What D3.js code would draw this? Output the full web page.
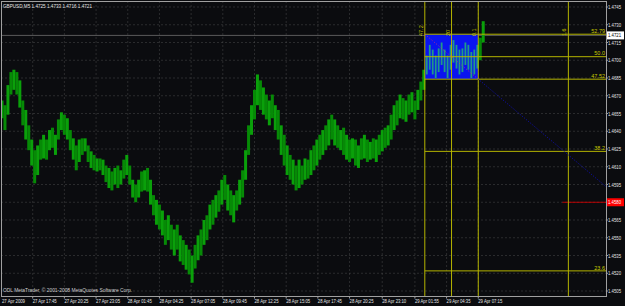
<!DOCTYPE html>
<html><head><meta charset="utf-8">
<script src="https://cdn.jsdelivr.net/npm/d3@7"></script>
<style>body{margin:0;background:#0b0c0f;} svg{display:block}</style>
</head><body><svg id="c" width="625" height="306"></svg>
<script>
// ---------- data ----------
const symbolTitle = "GBPUSD,M5  1.4725 1.4733 1.4716 1.4721";
const copyright = "ODL MetaTrader, © 2001-2008 MetaQuotes Software Corp.";
const barStepMinutes = 15; // each drawn bar groups 15 minutes of M5 data
const barHigh = [
1.4666,1.4662,1.4679,1.4690,1.4692,1.4690,1.4683,1.4666,1.4658,1.4645,
1.4633,1.4624,1.4628,1.4633,1.4637,1.4633,1.4641,1.4643,1.4637,1.4650,
1.4656,1.4654,1.4651,1.4641,1.4634,1.4628,1.4633,1.4634,1.4634,1.4628,
1.4623,1.4620,1.4617,1.4617,1.4616,1.4611,1.4609,1.4606,1.4609,1.4611,
1.4607,1.4616,1.4620,1.4611,1.4599,1.4595,1.4599,1.4606,1.4607,1.4609,
1.4599,1.4586,1.4582,1.4578,1.4573,1.4565,1.4569,1.4561,1.4557,1.4561,
1.4552,1.4548,1.4544,1.4540,1.4535,1.4544,1.4552,1.4557,1.4565,1.4569,
1.4578,1.4582,1.4586,1.4590,1.4599,1.4603,1.4595,1.4590,1.4586,1.4590,
1.4599,1.4607,1.4624,1.4645,1.4662,1.4675,1.4688,1.4683,1.4677,1.4671,
1.4666,1.4671,1.4662,1.4658,1.4645,1.4637,1.4628,1.4620,1.4616,1.4611,
1.4616,1.4611,1.4617,1.4616,1.4624,1.4628,1.4633,1.4637,1.4641,1.4645,
1.4650,1.4654,1.4650,1.4645,1.4641,1.4643,1.4637,1.4633,1.4634,1.4633,
1.4628,1.4634,1.4637,1.4633,1.4631,1.4634,1.4633,1.4637,1.4641,1.4643,
1.4645,1.4654,1.4662,1.4666,1.4671,1.4668,1.4666,1.4671,1.4673,1.4666,
1.4675,1.4682,1.4692,1.4704,1.4713,1.4709,1.4704,1.4710,1.4715,1.4709,
1.4704,1.4713,1.4717,1.4713,1.4709,1.4710,1.4715,1.4713,1.4707,1.4709,
1.4713,1.4719,1.4733];
const barLow = [
1.4651,1.4641,1.4654,1.4671,1.4675,1.4671,1.4660,1.4645,1.4633,1.4624,
1.4611,1.4596,1.4603,1.4616,1.4617,1.4616,1.4624,1.4626,1.4620,1.4633,
1.4641,1.4637,1.4633,1.4624,1.4616,1.4607,1.4614,1.4620,1.4623,1.4614,
1.4609,1.4607,1.4606,1.4607,1.4603,1.4597,1.4592,1.4590,1.4595,1.4592,
1.4595,1.4600,1.4603,1.4595,1.4584,1.4580,1.4584,1.4589,1.4590,1.4589,
1.4578,1.4569,1.4561,1.4557,1.4552,1.4544,1.4548,1.4540,1.4535,1.4540,
1.4530,1.4527,1.4523,1.4519,1.4512,1.4524,1.4531,1.4535,1.4544,1.4548,
1.4557,1.4561,1.4567,1.4572,1.4578,1.4582,1.4573,1.4569,1.4563,1.4573,
1.4578,1.4584,1.4599,1.4620,1.4637,1.4650,1.4662,1.4658,1.4654,1.4650,
1.4645,1.4651,1.4641,1.4633,1.4620,1.4611,1.4603,1.4599,1.4595,1.4590,
1.4592,1.4595,1.4599,1.4600,1.4603,1.4607,1.4611,1.4616,1.4620,1.4624,
1.4628,1.4633,1.4628,1.4626,1.4624,1.4620,1.4616,1.4614,1.4617,1.4611,
1.4609,1.4616,1.4617,1.4614,1.4616,1.4617,1.4614,1.4620,1.4623,1.4626,
1.4628,1.4633,1.4641,1.4645,1.4651,1.4650,1.4648,1.4654,1.4656,1.4650,
1.4658,1.4666,1.4675,1.4688,1.4692,1.4688,1.4685,1.4690,1.4696,1.4690,
1.4685,1.4692,1.4698,1.4693,1.4688,1.4690,1.4696,1.4692,1.4685,1.4688,
1.4693,1.4700,1.4715];
const priceTicks = [1.4745,1.4730,1.4715,1.4700,1.4685,1.4670,1.4655,1.4640,1.4625,1.4610,1.4595,1.4580,1.4565,1.4550,1.4535,1.4520,1.4505];
const timeLabels = ["27 Apr 2009","27 Apr 17:45","27 Apr 20:25","27 Apr 23:05","28 Apr 01:45","28 Apr 04:25","28 Apr 07:05","28 Apr 09:45","28 Apr 12:25","28 Apr 15:05","28 Apr 17:45","28 Apr 20:25","28 Apr 23:10","29 Apr 01:55","29 Apr 04:35","29 Apr 07:15"];
const timeLabelMinutes = [0,155,315,475,635,795,955,1115,1275,1435,1595,1755,1920,2085,2245,2405];
const bidPrice = 1.4721;
const alertPrice = 1.4580;
const alertStartMinute = 2830;
const fibLabels = ["52.79","50.0","47.52","38.2","23.6"];
const fibPrices = [1.4722,1.4703,1.4684,1.4623,1.4522];
const fibStartMinute = 2135;
const boxMinutes = [2135, 2405];
const boxPrices = [1.4722, 1.4684];
const vLineMinutes = [2135, 2270, 2405, 2860];
const vLineLabels = ["47.2","20","0.1","1.6"];

// ---------- chart ----------
const svg = d3.select("#c");
const L = 1.5, R = 606.5, T = 1.5, B = 296.5;
const x = d3.scaleLinear().domain([0, 3050]).range([2, 606]);
const y = d3.scaleLinear().domain([1.4745, 1.4505]).range([7, 291]);
const font = "Liberation Sans, Arial, sans-serif";

svg.append("rect").attr("width",625).attr("height",306).attr("fill","#0b0c0f");

const defs = svg.append("defs");
defs.append("clipPath").attr("id","plot").append("rect")
  .attr("x",L).attr("y",T).attr("width",R-L).attr("height",B-T);
defs.append("clipPath").attr("id","box").append("rect")
  .attr("x",x(boxMinutes[0])).attr("y",y(boxPrices[0]))
  .attr("width",x(boxMinutes[1])-x(boxMinutes[0])).attr("height",y(boxPrices[1])-y(boxPrices[0]));

const plot = svg.append("g").attr("clip-path","url(#plot)");

// grid
plot.selectAll("line.hg").data(priceTicks).join("line")
  .attr("x1",L).attr("x2",R).attr("y1",d=>y(d)).attr("y2",d=>y(d))
  .attr("stroke","#5a5a5a").attr("stroke-width",0.8).attr("stroke-dasharray","1,3");
plot.selectAll("line.vg").data(timeLabelMinutes.slice(1)).join("line")
  .attr("x1",d=>x(d)).attr("x2",d=>x(d)).attr("y1",T).attr("y2",B)
  .attr("stroke","#5a5a5a").attr("stroke-width",0.8).attr("stroke-dasharray","1,3");

// bid line
plot.append("line").attr("x1",L).attr("x2",R).attr("y1",y(bidPrice)).attr("y2",y(bidPrice))
  .attr("stroke","#6e6e6e").attr("stroke-width",0.8);

// bars
const bars = barHigh.map((h,i)=>({t:i*barStepMinutes, h, l:barLow[i]}));
plot.append("g").selectAll("rect").data(bars).join("rect")
  .attr("x",d=>x(d.t)-1.5).attr("width",3)
  .attr("y",d=>y(d.h)).attr("height",d=>Math.max(1,y(d.l)-y(d.h)))
  .attr("fill",(d,i)=>i%2?"#068a06":"#0aa00a");

// blue rectangle with the bars showing through in teal
const inner = plot.append("g").attr("clip-path","url(#box)");
inner.append("rect")
  .attr("x",x(boxMinutes[0])).attr("y",y(boxPrices[0]))
  .attr("width",x(boxMinutes[1])-x(boxMinutes[0])).attr("height",y(boxPrices[1])-y(boxPrices[0]))
  .attr("fill","#0a14f0");
inner.selectAll("rect.b").data(bars).join("rect")
  .attr("x",d=>x(d.t)-0.9).attr("width",1.8)
  .attr("y",d=>y(d.h)).attr("height",d=>Math.max(1,y(d.l)-y(d.h)))
  .attr("fill","#1f9a8a");

// alert line
plot.append("line").attr("x1",x(alertStartMinute)).attr("x2",R).attr("y1",y(alertPrice)).attr("y2",y(alertPrice))
  .attr("stroke","#d00000").attr("stroke-width",0.9);

// fib levels
plot.selectAll("line.fib").data(fibPrices).join("line")
  .attr("x1",x(fibStartMinute)).attr("x2",R).attr("y1",d=>y(d)).attr("y2",d=>y(d))
  .attr("stroke","#b4b400").attr("stroke-width",1);
// vertical lines
plot.selectAll("line.vl").data(vLineMinutes).join("line")
  .attr("x1",d=>x(d)).attr("x2",d=>x(d)).attr("y1",T).attr("y2",B)
  .attr("stroke","#b4b400").attr("stroke-width",1);
plot.selectAll("text.vl").data(vLineMinutes).join("text")
  .attr("transform",d=>`translate(${x(d)-2},36) rotate(-90)`)
  .attr("font-family",font).attr("font-size",5.5).attr("fill","#c8c800")
  .text((d,i)=>vLineLabels[i]);

// trend ray
const slope = (y(boxPrices[1])-y(boxPrices[0]))/(x(boxMinutes[1])-x(boxMinutes[0]));
plot.append("line")
  .attr("x1",x(boxMinutes[0])).attr("y1",y(boxPrices[0]))
  .attr("x2",x(boxMinutes[1])).attr("y2",y(boxPrices[1]))
  .attr("stroke","#e03070").attr("stroke-width",0.8).attr("stroke-dasharray","1,2");
plot.append("line")
  .attr("x1",x(boxMinutes[1])).attr("y1",y(boxPrices[1]))
  .attr("x2",R).attr("y2",y(boxPrices[1])+slope*(R-x(boxMinutes[1])))
  .attr("stroke","#1010b0").attr("stroke-width",1).attr("stroke-dasharray","1,1.5");

// fib labels
plot.selectAll("text.fib").data(fibPrices).join("text")
  .attr("x",605).attr("y",d=>y(d)-1.3).attr("text-anchor","end")
  .attr("font-family",font).attr("font-size",5.5).attr("fill","#c8c800")
  .text((d,i)=>fibLabels[i]);

// frame
svg.append("rect").attr("x",L).attr("y",T).attr("width",R-L).attr("height",B-T)
  .attr("fill","none").attr("stroke","#a0a0a0").attr("stroke-width",1);

// price axis
svg.selectAll("line.pt").data(priceTicks).join("line")
  .attr("x1",R).attr("x2",R+1.5).attr("y1",d=>y(d)).attr("y2",d=>y(d))
  .attr("stroke","#a0a0a0");
svg.selectAll("text.pt").data(priceTicks).join("text")
  .attr("x",608).attr("y",d=>y(d)+2).attr("font-family",font).attr("font-size",5.4)
  .attr("fill","#e6e6e6").attr("textLength",13).attr("lengthAdjust","spacingAndGlyphs")
  .text(d=>d.toFixed(4));

// bid price box
svg.append("rect").attr("x",607).attr("y",y(bidPrice)-4).attr("width",17).attr("height",8).attr("fill","#ffffff");
svg.append("text").attr("x",608).attr("y",y(bidPrice)+2).attr("font-family",font).attr("font-size",5.4)
  .attr("fill","#000").attr("textLength",13).attr("lengthAdjust","spacingAndGlyphs").text(bidPrice.toFixed(4));
// alert price box
svg.append("rect").attr("x",607).attr("y",y(alertPrice)-4).attr("width",17).attr("height",8).attr("fill","#ff0000");
svg.append("text").attr("x",608).attr("y",y(alertPrice)+2).attr("font-family",font).attr("font-size",5.4)
  .attr("fill","#fff").attr("textLength",13).attr("lengthAdjust","spacingAndGlyphs").text(alertPrice.toFixed(4));

// time axis
svg.selectAll("line.tt").data(timeLabelMinutes.slice(1)).join("line")
  .attr("x1",d=>x(d)).attr("x2",d=>x(d)).attr("y1",B).attr("y2",B+2)
  .attr("stroke","#a0a0a0");
svg.selectAll("text.tt").data(timeLabelMinutes).join("text")
  .attr("x",d=>Math.max(1,x(d))).attr("y",303).attr("font-family",font).attr("font-size",6)
  .attr("fill","#e6e6e6").attr("textLength",(d,i)=>i===0?23:24).attr("lengthAdjust","spacingAndGlyphs")
  .text((d,i)=>timeLabels[i]);

// title and copyright
svg.append("text").attr("x",3).attr("y",8).attr("font-family",font).attr("font-size",6)
  .attr("fill","#e6e6e6").attr("textLength",89).attr("lengthAdjust","spacingAndGlyphs").text(symbolTitle);
svg.append("text").attr("x",3).attr("y",292).attr("font-family",font).attr("font-size",6)
  .attr("fill","#d0d0d0").attr("textLength",129).attr("lengthAdjust","spacingAndGlyphs").text(copyright);
</script></body></html>
